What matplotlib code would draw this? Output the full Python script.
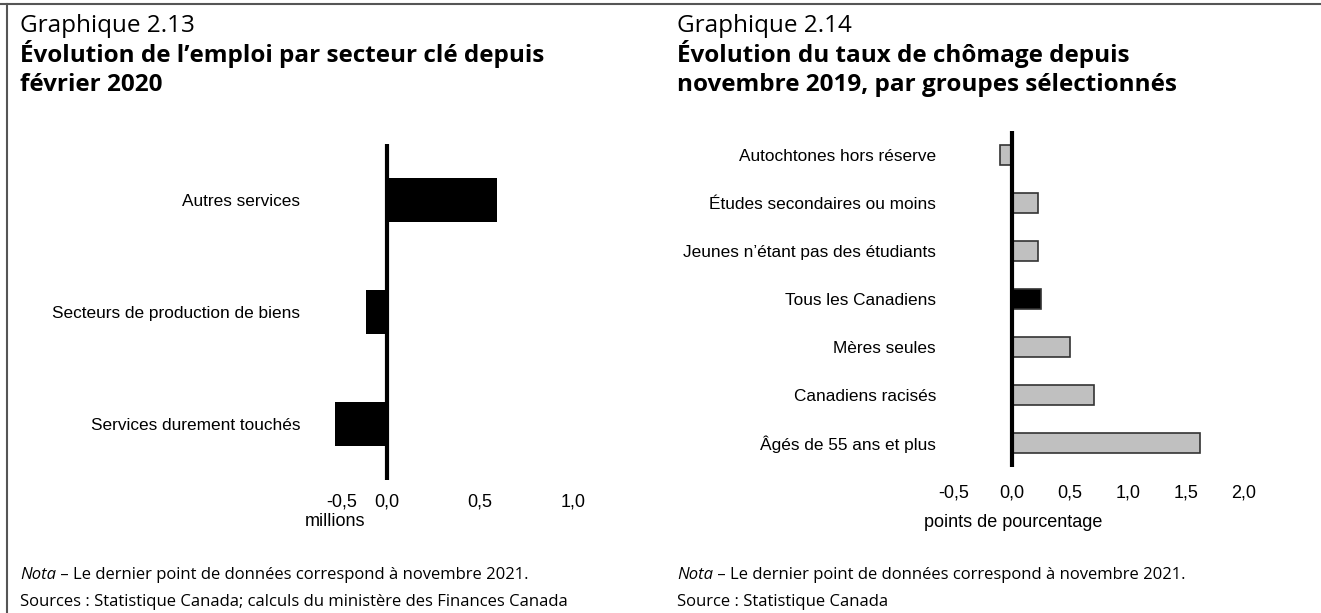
import matplotlib
matplotlib.use("Agg")
import matplotlib.pyplot as plt
from matplotlib.lines import Line2D

# Graphique 2.13 - emploi par secteur clé (millions)
secteurs = ["Autres services", "Secteurs de production de biens", "Services durement touchés"]
emploi = [0.59, -0.11, -0.28]
ticks_gauche = [-0.24, 0.0, 0.5, 1.0]
labels_gauche = ["-0,5", "0,0", "0,5", "1,0"]

# Graphique 2.14 - taux de chômage (points de pourcentage)
groupes = ["Autochtones hors réserve", "Études secondaires ou moins",
           "Jeunes n\u2019étant pas des étudiants", "Tous les Canadiens",
           "Mères seules", "Canadiens racisés", "Âgés de 55 ans et plus"]
chomage = [-0.1, 0.22, 0.22, 0.25, 0.5, 0.71, 1.62]
ticks_droite = [-0.5, 0.0, 0.5, 1.0, 1.5, 2.0]
labels_droite = ["-0,5", "0,0", "0,5", "1,0", "1,5", "2,0"]

W, H = 1321, 613
fig = plt.figure(figsize=(W / 100, H / 100), dpi=100)
fig.patch.set_facecolor("white")

AX_FONT = "Liberation Sans"
TXT_FONT = "Open Sans"


def px(x, y, w, h):
    return [x / W, 1 - (y + h) / H, w / W, h / H]


def fy(y):
    return 1 - y / H


def style_axes(ax):
    for s in ax.spines.values():
        s.set_visible(False)
    ax.tick_params(axis="both", length=0)
    ax.axvline(0, color="black", lw=3, zorder=3)


# ---- gauche
ax1 = fig.add_axes(px(331, 144, 261, 336))
y1 = range(len(secteurs))
ax1.barh(y1, emploi, height=0.39, color="black", zorder=2)
ax1.set_ylim(len(secteurs) - 0.5, -0.5)
ax1.set_xlim(-0.3, 1.1)
style_axes(ax1)
ax1.set_yticks(list(y1))
ax1.set_yticklabels(secteurs, fontsize=12.4, family=AX_FONT)
ax1.tick_params(axis="y", pad=22)
ax1.set_xticks(ticks_gauche)
ax1.set_xticklabels(labels_gauche, fontsize=13, family=AX_FONT)
ax1.tick_params(axis="x", pad=10)
ax1.set_xlabel("millions", fontsize=13, family=AX_FONT)
ax1.xaxis.set_label_coords(0.015, -0.125)
ax1.xaxis.label.set_va("center")

# ---- droite
ax2 = fig.add_axes(px(954, 131, 290, 336))
y2 = range(len(groupes))
couleurs = ["black" if g == "Tous les Canadiens" else "#c0c0c0" for g in groupes]
ax2.barh(y2, chomage, height=0.42, color=couleurs, edgecolor="#333333",
         linewidth=1.2, zorder=2)
ax2.set_ylim(len(groupes) - 0.5, -0.5)
ax2.set_xlim(-0.5, 2.0)
style_axes(ax2)
ax2.set_yticks(list(y2))
ax2.set_yticklabels(groupes, fontsize=12.4, family=AX_FONT)
ax2.tick_params(axis="y", pad=13)
ax2.set_xticks(ticks_droite)
ax2.set_xticklabels(labels_droite, fontsize=13, family=AX_FONT)
ax2.tick_params(axis="x", pad=12.5)
ax2.set_xlabel("points de pourcentage", fontsize=13, family=AX_FONT)
ax2.xaxis.set_label_coords(0.203, -0.164)
ax2.xaxis.label.set_va("center")

# ---- titres et notes
panneaux = [
    (20, "Graphique 2.13", ["Évolution de l\u2019emploi par secteur clé depuis", "février 2020"],
     "Sources : Statistique Canada; calculs du ministère des Finances Canada"),
    (677, "Graphique 2.14", ["Évolution du taux de chômage depuis",
                             "novembre 2019, par groupes sélectionnés"],
     "Source : Statistique Canada"),
]
for x0, num, titre, src in panneaux:
    fig.text(x0 / W, fy(32), num, fontsize=17.5, family=TXT_FONT, va="baseline")
    fig.text(x0 / W, fy(62), titre[0], fontsize=17.5, family=TXT_FONT,
             weight="bold", va="baseline")
    fig.text(x0 / W, fy(91), titre[1], fontsize=17.5, family=TXT_FONT,
             weight="bold", va="baseline")
    t = fig.text(x0 / W, fy(579), "Nota", fontsize=12, family=TXT_FONT,
                 style="italic", va="baseline")
    fig.canvas.draw()
    bb = t.get_window_extent()
    fig.text(bb.x1 / W, fy(579), " \u2013 Le dernier point de données correspond à novembre 2021.",
             fontsize=12, family=TXT_FONT, va="baseline")
    fig.text(x0 / W, fy(606), src, fontsize=12, family=TXT_FONT, va="baseline")

# cadre
fig.add_artist(Line2D([0, 1], [fy(4), fy(4)], transform=fig.transFigure,
                      color="#555555", lw=1.5))
fig.add_artist(Line2D([7 / W, 7 / W], [fy(4), 0], transform=fig.transFigure,
                      color="#555555", lw=1.5))

fig.savefig("out.png", dpi=100)
